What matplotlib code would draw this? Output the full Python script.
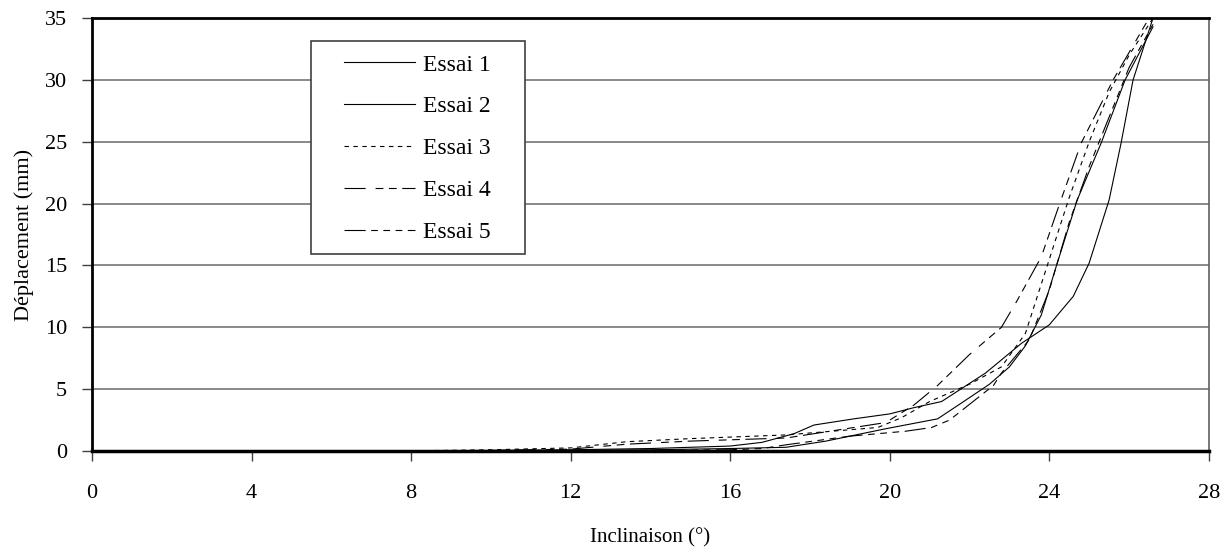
import matplotlib
matplotlib.use("Agg")
import matplotlib.pyplot as plt
from matplotlib.patches import Rectangle

# values
x1 = [7.7, 10, 12, 14, 16, 16.8, 17.6, 18.1, 19.1, 20.0, 20.6, 21.3, 22.4, 23.3, 24.0, 24.6, 25.0, 25.5, 25.8, 26.1, 26.6]
y1 = [0, 0.05, 0.1, 0.2, 0.4, 0.7, 1.4, 2.1, 2.6, 3.0, 3.5, 4.0, 6.3, 8.7, 10.2, 12.5, 15.2, 20.3, 24.9, 30.0, 35.0]

x2 = [7.7, 10, 12, 14, 16, 17.4, 18.4, 19.9, 21.2, 21.9, 22.5, 23.0, 23.4, 23.8, 24.2, 24.7, 25.3, 25.9, 26.6]
y2 = [0, 0.02, 0.05, 0.1, 0.2, 0.3, 0.8, 1.8, 2.6, 4.1, 5.4, 6.8, 8.5, 11.0, 15.2, 20.3, 24.9, 30.0, 34.3]

x3 = [7.7, 10, 12, 13.4, 15, 17.4, 19.7, 20.3, 21.0, 22.0, 22.8, 23.4, 24.0, 24.5, 25.0, 25.5, 26.0, 26.6]
y3 = [0, 0.1, 0.25, 0.75, 1.0, 1.3, 1.9, 2.7, 4.0, 5.4, 6.8, 9.5, 15.5, 20.5, 25.0, 29.0, 32.0, 35.0]

x4 = [7.7, 10, 12, 13.4, 15, 17.4, 19.9, 20.6, 21.2, 22.0, 22.8, 23.2, 23.8, 24.26, 24.8, 25.6, 26.5]
y4 = [0, 0.05, 0.15, 0.55, 0.8, 1.05, 2.3, 3.7, 5.3, 7.8, 10.0, 12.2, 15.7, 20.0, 24.9, 30.0, 35.0]

x5 = [7.7, 12, 16, 16.8, 17.4, 19.0, 20.4, 21.05, 21.5, 22.6, 22.8, 23.5, 24.0, 24.5, 25.0, 25.5, 26.0, 26.6]
y5 = [0, 0.02, 0.1, 0.2, 0.5, 1.2, 1.6, 1.9, 2.5, 5.3, 6.3, 9.0, 13.0, 18.5, 23.0, 27.0, 31.0, 34.5]

labels = ["Essai 1", "Essai 2", "Essai 3", "Essai 4", "Essai 5"]
x_ticks = [0, 4, 8, 12, 16, 20, 24, 28]
y_ticks = [0, 5, 10, 15, 20, 25, 30, 35]

plt.rcParams['font.family'] = ['Liberation Serif', 'DejaVu Serif']

fig = plt.figure(figsize=(12.31, 5.5), dpi=100)
ax = fig.add_axes([0.0747, 0.18, 0.9073, 0.787])

ax.plot(x1, y1, color='k', lw=0.8, label=labels[0])
ax.plot(x2, y2, color='k', lw=0.8, label=labels[1])
ax.plot(x3, y3, color='k', lw=0.8, dashes=(4, 4), label=labels[2])
ax.plot(x4, y4, color='k', lw=0.8, dashes=(19, 9, 7, 5, 7, 5), label=labels[3])
ax.plot(x5, y5, color='k', lw=0.8, dashes=(19, 5, 6, 5, 6, 5, 6, 5), label=labels[4])

ax.set_xlim(0, 28)
ax.set_ylim(0, 35)
ax.set_xticks(x_ticks)
ax.set_yticks(y_ticks)
ax.yaxis.grid(True, color='#808080', lw=1.3)
ax.set_axisbelow(True)

ax.spines['left'].set_linewidth(2)
ax.spines['bottom'].set_linewidth(2.5)
ax.spines['top'].set_linewidth(2)
ax.spines['right'].set_color('#606060')
ax.spines['right'].set_linewidth(1.2)

ax.tick_params(axis='x', direction='out', length=7, width=1, color='#404040', pad=17, labelsize=16)
ax.tick_params(axis='y', direction='out', length=7, width=1, color='#404040', pad=11, labelsize=16)

ax.set_xlabel('Inclinaison (°)', fontsize=15, labelpad=18)
ax.set_ylabel('Déplacement (mm)', fontsize=16, labelpad=8)

# legend frame drawn separately so the inner padding can match
ax.add_patch(Rectangle((0.196, 0.455), 0.192, 0.492, transform=ax.transAxes,
                       facecolor='white', edgecolor='#404040', lw=1.2, zorder=3))
leg = ax.legend(loc='upper left', bbox_to_anchor=(0.2256, 0.917), fontsize=17,
                frameon=False, handlelength=3.0, handletextpad=0.35,
                labelspacing=0.86, borderpad=0, borderaxespad=0)
leg.set_zorder(5)

fig.savefig('out.png', dpi=100)
